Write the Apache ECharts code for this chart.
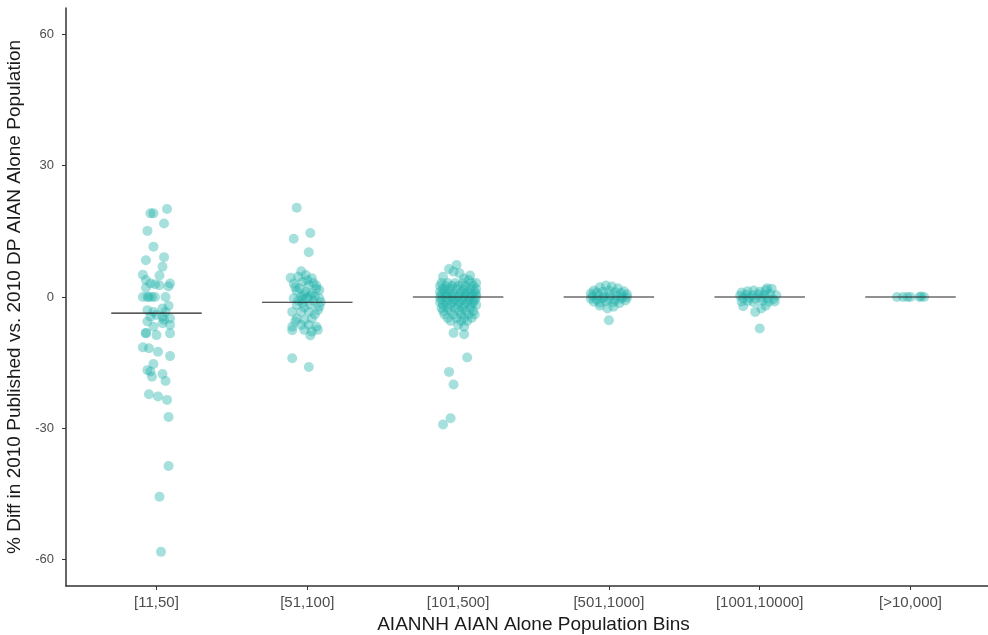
<!DOCTYPE html>
<html>
<head>
<meta charset="utf-8">
<script src="https://cdn.jsdelivr.net/npm/echarts@6/dist/echarts.min.js"></script>
<style>html,body{margin:0;padding:0;background:#fff}#c{width:988px;height:635px}</style>
</head>
<body>
<div id="c"></div>
<script>
const categories = ['[11,50]', '[51,100]', '[101,500]', '[501,1000]', '[1001,10000]', '[>10,000]'];
const yTicks = [-60, -30, 0, 30, 60];
const medians = [-3.7, -1.2, 0, 0, 0, 0];

// [jitter offset in category units, % diff]
const bin1 = [
  [0.07,20.1],[-0.04,19.1],[-0.02,19.1],[0.05,16.8],[-0.06,15.1],[-0.02,11.5],[-0.07,8.4],[0.05,9.1],
  [0.04,6.9],[-0.09,5.1],[0.02,4.9],[-0.07,3.9],[-0.04,3.1],[-0.01,2.9],[0.02,2.7],[0.09,3.1],
  [0.08,2.4],[-0.07,2.1],[-0.09,0],[-0.06,0],[-0.03,0],[-0.05,0],[-0.01,0],[0.06,0],
  [0.08,-2],[-0.06,-3],[-0.02,-3.4],[0.04,-2.6],[0.06,-3.4],[-0.04,-4.5],[0.0,-4.1],[0.04,-4.5],
  [0.09,-4.9],[-0.06,-5.6],[0.04,-6],[0.05,-5.2],[-0.02,-6.8],[0.09,-6.4],[-0.07,-8.3],[-0.07,-8.2],
  [0.0,-8.7],[0.09,-8.3],[-0.09,-11.5],[-0.05,-11.7],[0.01,-12.5],[0.09,-13.5],[-0.02,-15.3],[-0.06,-16.7],
  [-0.04,-17],[0.04,-17.6],[-0.03,-18.2],[0.06,-19.2],[-0.05,-22.2],[0.01,-22.7],[0.07,-23.5],[0.08,-27.4],
  [0.08,-38.6],[0.02,-45.6],[0.03,-58.2]
];
const bin2 = [
  [-0.07,20.4],[0.02,14.6],[-0.09,13.3],[0.01,10.2],[-0.04,5.9],[-0.11,4.4],[-0.06,4.6],[-0.01,5.0],
  [0.03,4.3],[-0.09,3.1],[-0.03,3.5],[0.01,2.7],[0.08,1.6],[0.06,2.6],[-0.07,1.4],[-0.01,1.2],
  [0.03,0.8],[-0.04,0.1],[0.0,-0.3],[0.05,0.1],[0.08,-0.3],[-0.09,-0.3],[-0.07,-1.8],[-0.03,-1.4],
  [0.02,-1.7],[0.08,-2.2],[-0.10,-3.4],[-0.04,-3.4],[0.01,-3.4],[0.07,-3.0],[-0.07,-4.9],[-0.02,-5.3],
  [0.03,-4.9],[-0.10,-6.8],[-0.04,-6.4],[0.01,-6.4],[0.06,-6.8],[-0.10,-7.6],[-0.02,-7.5],[0.03,-7.9],
  [0.02,-8.8],[0.07,-7.5],[-0.06,-0.8],[0.04,-0.9],[-0.02,0.6],[0.06,1.9],[-0.08,2.2],[0.0,3.9],
  [-0.05,2.0],[0.04,3.2],[-0.02,-2.4],[0.05,-4.0],[-0.08,-5.6],[0.09,-1.2],[-0.03,-0.5],[0.02,0.3],
  [-0.10,-14],[0.01,-16]
];
const bin3 = [
  [-0.01,7.3],[-0.06,6.4],[0.01,5.4],[-0.10,4.6],[0.08,4.9],[0.07,3.9],[-0.03,5.8],[0.04,4.2],
  [-0.11,3.2],[-0.07,3.2],[-0.02,3.2],[0.03,3.2],[0.09,3.2],[0.12,3.2],
  [-0.12,2.5],[-0.08,2.5],[-0.04,2.5],[0.0,2.5],[0.05,2.5],[0.10,2.5],
  [-0.10,1.8],[-0.06,1.8],[-0.01,1.8],[0.04,1.8],[0.08,1.8],[0.12,1.8],
  [-0.12,1.2],[-0.09,1.2],[-0.05,1.2],[0.02,1.2],[0.06,1.2],[0.11,1.2],
  [-0.11,0.6],[-0.07,0.6],[-0.03,0.6],[0.01,0.6],[0.05,0.6],[0.09,0.6],[0.12,0.6],
  [-0.12,0],[-0.08,0],[-0.04,0],[0.0,0],[0.04,0],[0.08,0],[0.12,0],
  [-0.11,-0.6],[-0.06,-0.6],[-0.02,-0.6],[0.03,-0.6],[0.07,-0.6],[0.11,-0.6],
  [-0.12,-1.2],[-0.08,-1.2],[-0.03,-1.2],[0.01,-1.2],[0.06,-1.2],[0.10,-1.2],
  [-0.10,-1.8],[-0.05,-1.8],[0.0,-1.8],[0.04,-1.8],[0.09,-1.8],[0.12,-1.8],
  [-0.11,-2.5],[-0.07,-2.5],[-0.02,-2.5],[0.03,-2.5],[0.08,-2.5],
  [-0.10,-3.2],[-0.05,-3.2],[0.01,-3.2],[0.05,-3.2],[0.10,-3.2],
  [-0.09,-4.0],[-0.03,-4.0],[0.02,-4.0],[0.07,-4.0],[0.11,-4.0],
  [-0.07,-4.8],[-0.01,-4.8],[0.04,-4.8],[0.09,-4.8],
  [-0.05,-5.5],[0.02,-5.5],[0.06,-5.5],
  [0.0,-6.4],[0.04,-6.8],[-0.03,-8.2],[0.04,-8.5],[0.06,-13.8],[-0.06,-17.1],[-0.03,-20],
  [-0.05,-27.7],[-0.10,-29.1]
];
const bin4 = [
  [-0.10,1.5],[-0.06,2.2],[-0.02,2.6],[0.02,2.4],[0.06,2.0],[0.10,1.3],
  [-0.12,0.8],[-0.08,1.0],[-0.04,1.2],[0.0,1.4],[0.04,1.1],[0.08,0.9],[0.12,0.6],
  [-0.11,0.2],[-0.07,0.3],[-0.03,0.1],[0.01,0.4],[0.05,0.2],[0.09,0.0],[0.12,-0.1],
  [-0.12,-0.4],[-0.08,-0.6],[-0.04,-0.3],[0.0,-0.5],[0.04,-0.7],[0.08,-0.4],[0.11,-0.8],
  [-0.10,-1.1],[-0.06,-1.3],[-0.02,-1.0],[0.03,-1.2],[0.07,-1.4],
  [-0.06,-2.0],[-0.01,-2.6],[0.03,-2.2],[0.0,-5.3]
];
const bin5 = [
  [-0.12,1.0],[-0.08,1.3],[-0.04,1.5],[0.0,1.2],[0.04,1.6],[0.08,1.9],[0.05,2.0],
  [-0.13,0.3],[-0.09,0.5],[-0.05,0.4],[-0.01,0.6],[0.03,0.5],[0.07,0.7],[0.11,0.4],
  [-0.11,-0.3],[-0.07,-0.2],[-0.03,-0.4],[0.01,-0.1],[0.05,-0.3],[0.09,-0.5],
  [-0.12,-1.0],[-0.08,-0.9],[-0.04,-1.2],[0.02,-0.8],[0.06,-1.1],[0.10,-1.0],
  [-0.11,-2.1],[-0.03,-3.4],[0.01,-2.6],[0.04,-2.0],[0.0,-7.2]
];
const bin6 = [
  [-0.09,0],[-0.05,0],[-0.02,0],[0.0,0],[0.06,0],[0.07,0.1],[0.09,0]
];

const bins = [bin1, bin2, bin3, bin4, bin5, bin6];
const points = [];
bins.forEach((b, i) => b.forEach(p => points.push([i + p[0], p[1]])));
const catIdx = categories.map((c, i) => i);

const chart = echarts.init(document.getElementById('c'), null, {renderer: 'canvas'});
chart.setOption({
  animation: false,
  backgroundColor: '#ffffff',
  textStyle: {fontFamily: 'Liberation Sans, Arial, sans-serif'},
  grid: {left: 66, right: -13, top: 8, bottom: 49, containLabel: false, outerBoundsMode: 'none'},
  xAxis: {
    type: 'value', min: -0.6, max: 5.6,
    name: 'AIANNH AIAN Alone Population Bins',
    nameLocation: 'middle', nameGap: 25,
    nameTextStyle: {fontSize: 19, color: '#1a1a1a'},
    axisLine: {show: true, onZero: false, lineStyle: {color: '#333', width: 1.5}},
    axisTick: {show: true, customValues: catIdx, length: 4, lineStyle: {color: '#333'}},
    axisLabel: {customValues: catIdx, formatter: v => categories[Math.round(v)], fontSize: 15, color: '#4d4d4d', margin: 9},
    splitLine: {show: false}
  },
  yAxis: {
    type: 'value', min: -66, max: 66,
    name: '% Diff in 2010 Published vs. 2010 DP AIAN Alone Population',
    nameLocation: 'middle', nameGap: 36,
    nameTextStyle: {fontSize: 19, color: '#1a1a1a'},
    axisLine: {show: true, onZero: false, lineStyle: {color: '#333', width: 1.5}},
    axisTick: {show: true, customValues: yTicks, length: 4, lineStyle: {color: '#333'}},
    axisLabel: {customValues: yTicks, fontSize: 13, color: '#4d4d4d', margin: 12},
    splitLine: {show: false}
  },
  series: [
    {
      type: 'scatter',
      data: points,
      symbolSize: 10,
      itemStyle: {color: 'rgba(32,178,170,0.5)'},
      z: 2
    },
    {
      type: 'custom',
      data: medians.map((m, i) => [i, m]),
      renderItem: function (params, api) {
        const i = api.value(0), m = api.value(1);
        const p1 = api.coord([i - 0.3, m]);
        const p2 = api.coord([i + 0.3, m]);
        return {type: 'line', shape: {x1: p1[0], y1: p1[1], x2: p2[0], y2: p2[1]},
                style: {stroke: '#222', lineWidth: 1.2}};
      },
      z: 3
    }
  ]
});
</script>
</body>
</html>
